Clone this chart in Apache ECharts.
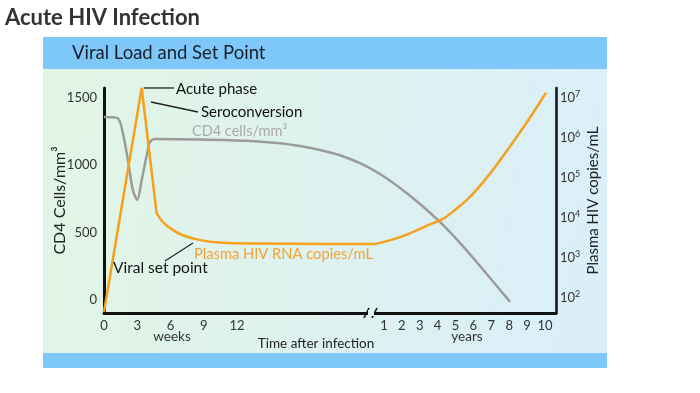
<!DOCTYPE html>
<html><head><meta charset="utf-8">
<script src="https://cdn.jsdelivr.net/npm/echarts@6/dist/echarts.min.js"></script>
<style>html,body{margin:0;padding:0;background:#fff}#c{width:700px;height:393px}</style>
</head><body><div id="c"></div>
<script>
// ---- tick labels ----
const weekTicks = [0, 3, 6, 9, 12];
const yearTicks = [1, 2, 3, 4, 5, 6, 7, 8, 9, 10];
const cd4Ticks = [0, 500, 1000, 1500];
const vlTickExps = [2, 3, 4, 5, 6, 7];

// ---- CD4 cells/mm3 (left axis) ----
const cd4Weeks    = [0, 1.2, 1.7, 2.2, 2.6, 3.0, 3.4, 3.9, 4.15, 4.6, 8.7, 13.2, 15.9, 17.7, 19.5, 21.3, 23.1];
const cd4WeeksVal = [1360, 1352, 1240, 1017, 816, 742, 890, 1091, 1173, 1196, 1192, 1181, 1164, 1143, 1114, 1074, 1015];
const cd4Years    = [0.78, 1.9, 3.02, 4.13, 5.25, 6.37, 7.49, 8.04];
const cd4YearsVal = [935, 831, 712, 578, 422, 250, 71, -15];

// ---- Plasma HIV RNA copies/mL (right axis, log) ----
const vlWeeks       = [0, 3.4, 4.75, 5.25, 6.0, 7.1, 8.7, 10.7, 14, 20, 23];
const vlWeeksCopies = [45, 17800000, 13200, 8300, 5500, 3700, 2800, 2400, 2300, 2240, 2240];
const vlYears       = [0.39, 1.06, 1.9, 2.74, 3.41, 4.3, 4.97, 5.64, 6.2, 6.76, 7.32, 7.88, 8.44, 9.0, 9.55, 10.06];
const vlYearsCopies = [2240, 2570, 3330, 4700, 6420, 9500, 15760, 28360, 51880, 103500, 218800, 484200, 1096000, 2512000, 5957000, 13650000];

// broken time axis: weeks part, then compressed years part
const YEAR0 = 23.65, YEARK = 1.6155, XMAX = 40.8, BREAK_AT = 24.1;
const yearPos = y => YEAR0 + y * YEARK;

const cd4Data = cd4Weeks.map((w, i) => [w, cd4WeeksVal[i]])
  .concat(cd4Years.map((y, i) => [yearPos(y), cd4YearsVal[i]]));
const vlAll = vlWeeks.map((w, i) => [w, Math.log10(vlWeeksCopies[i])])
  .concat(vlYears.map((y, i) => [yearPos(y), Math.log10(vlYearsCopies[i])]));
const vlAcute = vlAll.slice(0, 3);
const vlChronic = vlAll.slice(2);

const xLabelVals = weekTicks.concat(yearTicks.map(yearPos));
const FONT = 'Lato';
const ORANGE = '#f5a11c', GRAY = '#9b9b9b';

const chart = echarts.init(document.getElementById('c'));
const option = {
  animation: false,
  backgroundColor: '#ffffff',
  textStyle: { fontFamily: FONT },
  grid: { left: 104, right: 144, top: 88, bottom: 80 },
  xAxis: {
    type: 'value', min: 0, max: XMAX,
    axisLine: { onZero: false, lineStyle: { color: '#111', width: 3 } },
    axisTick: { show: false }, splitLine: { show: false },
    axisLabel: {
      customValues: xLabelVals, margin: 6, fontSize: 13, color: '#333', fontFamily: FONT,
      formatter: v => {
        if (v < YEAR0) return String(Math.round(v));
        return String(Math.round((v - YEAR0) / YEARK));
      }
    }
  },
  yAxis: [{
    type: 'value', min: -100, max: 1575, position: 'left',
    name: 'CD4 Cells/mm³', nameLocation: 'middle', nameRotate: 90, nameGap: 36, nameMoveOverlap: false,
    nameTextStyle: { fontSize: 16, color: '#222', fontFamily: FONT },
    axisLine: { show: true, onZero: false, lineStyle: { color: '#111', width: 3 } },
    axisTick: { show: false }, splitLine: { show: false },
    axisLabel: { customValues: cd4Ticks, margin: 7, fontSize: 13, color: '#333', fontFamily: FONT,
      formatter: v => String(Math.round(v)) }
  }, {
    type: 'value', min: 1.625, max: 7.25, position: 'right',
    name: 'Plasma HIV copies/mL', nameLocation: 'middle', nameRotate: 90, nameGap: 30, nameMoveOverlap: false,
    nameTextStyle: { fontSize: 15, color: '#222', fontFamily: FONT },
    axisLine: { show: true, onZero: false, lineStyle: { color: '#111', width: 2.5 } },
    axisTick: { show: false }, splitLine: { show: false },
    axisLabel: {
      customValues: vlTickExps, margin: 4, color: '#333', fontFamily: FONT,
      formatter: v => '{b|10}{s|' + Math.round(v) + '}',
      rich: {
        b: { fontSize: 13, color: '#333', fontFamily: FONT, lineHeight: 16 },
        s: { fontSize: 9, color: '#333', fontFamily: FONT, verticalAlign: 'top', lineHeight: 10 }
      }
    }
  }],
  series: [{
    name: 'CD4', type: 'line', yAxisIndex: 0, data: cd4Data, smooth: 0.3,
    symbol: 'none', lineStyle: { color: GRAY, width: 2.5 }
  }, {
    name: 'VL acute', type: 'line', yAxisIndex: 1, data: vlAcute, smooth: false,
    symbol: 'none', lineStyle: { color: ORANGE, width: 2.5 }
  }, {
    name: 'VL', type: 'line', yAxisIndex: 1, data: vlChronic, smooth: 0.3,
    symbol: 'none', lineStyle: { color: ORANGE, width: 2.5 }
  }]
};
chart.setOption(option);

const peak = chart.convertToPixel({ seriesIndex: 1 }, vlAcute[1]);
const brk = chart.convertToPixel({ seriesIndex: 0 }, [BREAK_AT, -100]);
const T = (x, y, text, color, size, align, weight) => ({
  type: 'text', z: 100, silent: true,
  style: { x, y, text, fill: color, fontSize: size, fontFamily: FONT, fontWeight: weight || 'normal',
    verticalAlign: 'middle', align: align || 'left' }
});
const L = (x1, y1, x2, y2, w, c) => ({ type: 'line', z: 100, silent: true, shape: { x1, y1, x2, y2 }, style: { stroke: c || '#222', lineWidth: w || 1.2 } });

chart.setOption({
  graphic: [
    { type: 'rect', z: -10, silent: true, shape: { x: 43, y: 37, width: 564, height: 331 },
      style: { fill: new echarts.graphic.LinearGradient(0, 0, 1, 0.3, [
        { offset: 0, color: '#e2f5e4' }, { offset: 1, color: '#daeff9' }]) } },
    { type: 'rect', z: -9, silent: true, shape: { x: 43, y: 37, width: 564, height: 32 }, style: { fill: '#7ec8f9' } },
    { type: 'rect', z: -9, silent: true, shape: { x: 43, y: 353, width: 564, height: 15 }, style: { fill: '#7ec8f9' } },
    T(5, 18, 'Acute HIV Infection', '#333', 22, 'left', 'bold'),
    T(72, 53, 'Viral Load and Set Point', '#1b1f2c', 18.5),
    // annotations
    L(peak[0] + 2, peak[1], 174, peak[1], 1.3),
    T(176, 89, 'Acute phase', '#111', 15),
    L(151, 102, 198, 112, 1.3),
    T(201, 112, 'Seroconversion', '#111', 15),
    T(192, 131, 'CD4 cells/mm³', '#a9a9a9', 14.5),
    T(194, 254, 'Plasma HIV RNA copies/mL', '#f2a43a', 14.7),
    L(165, 261, 193, 243, 1.2),
    T(113, 268, 'Viral set point', '#111', 15.5),
    // x-axis captions
    T(172, 337, 'weeks', '#333', 13.5, 'center'),
    T(316, 344, 'Time after infection', '#222', 13.5, 'center'),
    T(467, 337, 'years', '#333', 13.5, 'center'),
    // axis break marks
    { type: 'rect', z: 101, silent: true, shape: { x: brk[0] - 3, y: brk[1] - 3, width: 6, height: 6 }, style: { fill: '#e0f1f1' } },
    L(brk[0] - 7, brk[1] + 5, brk[0] - 2, brk[1] - 5, 1.6, '#111'),
    L(brk[0] + 1, brk[1] + 5, brk[0] + 6, brk[1] - 5, 1.6, '#111')
  ]
});
</script>
</body></html>
